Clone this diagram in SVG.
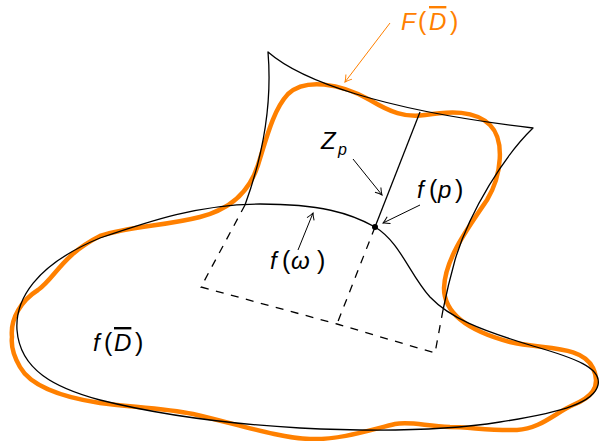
<svg xmlns="http://www.w3.org/2000/svg" width="600" height="441" viewBox="0 0 600 441">
<style>
.orange{fill:none;stroke:#ff8000;stroke-width:4.5;stroke-linejoin:round}
.edge{fill:none;stroke:#000;stroke-width:1.3;stroke-linejoin:round}
.dash{fill:none;stroke:#000;stroke-width:1.3;stroke-dasharray:8 7.5}
.arr{fill:none;stroke:#000;stroke-width:1}
.arro{fill:none;stroke:#ff8000;stroke-width:1}
text{font-family:"Liberation Sans","DejaVu Sans",sans-serif;font-size:24px;fill:#000}
.it{font-style:italic}
.ol{text-decoration:overline}
.pr{font-size:25px}
</style>
<defs>
<marker id="ah" viewBox="-8 -5 10 10" markerWidth="10" markerHeight="10" refX="0" refY="0" orient="auto" markerUnits="userSpaceOnUse" overflow="visible">
<path d="M-6.5,-3.8 Q-2.5,-1 0,0 Q-2.5,1 -6.5,3.8" fill="none" stroke="#000" stroke-width="1"/>
</marker>
<marker id="aho" viewBox="-8 -5 10 10" markerWidth="10" markerHeight="10" refX="0" refY="0" orient="auto" markerUnits="userSpaceOnUse" overflow="visible">
<path d="M-6.5,-3.8 Q-2.5,-1 0,0 Q-2.5,1 -6.5,3.8" fill="none" stroke="#ff8000" stroke-width="1"/>
</marker>
</defs>

<g id="F-boundary">
<path class="orange" d="M12,337 C10,318 22,300 38,290 C55,278 62,255 100,236 C130,226 165,226 200,217 C232,209 250,190 258,165 C266,140 273,110 288,94 C305,78 340,83 370,100 C390,112 405,118 425,115 C450,111 475,110 490,125 C505,140 502,175 487,200 C465,232 445,260 444,288 C444,312 465,330 510,342 C545,350 582,345 593,368 C602,388 590,398 573,405 C555,413 540,429 517,430 C490,431 470,427 450,427 C425,426 410,421 395,424 C370,430 340,440 310,439 C280,438 240,425 193,414 C165,408 130,407 100,403 C60,397 30,385 20,367 C13,355 11,345 12,337 Z"/>
</g>

<g id="f-D">
<path class="edge" d="M17,330 C15,300 35,265 100,238 C150,221 200,204 260,204 C320,204 350,213 375,227 C400,242 410,275 430,297 C450,318 480,330 533,346 C575,358 602,368 598,385 C594,402 565,412 500,422 C450,430 380,432 300,428 C230,424 160,415 100,400 C55,388 20,370 17,330 Z"/>
</g>

<g id="Zp-region">
<path class="edge" d="M245,205 C265,150 272,100 268,52 C300,80 380,110 533,128 C505,155 470,210 455,260 C448,285 445,300 443,310"/>
<path class="edge" d="M420,112 L375,227"/>
<path class="dash" d="M245,205 L201,287 L337,324 L435,353 L443,310"/>
<path class="dash" d="M375,227 L337,324"/>
<circle cx="375" cy="227" r="3" fill="#000"/>
</g>

<g id="connectors">
<line class="arro" x1="390" y1="23" x2="345" y2="82" marker-end="url(#aho)"/>
<line class="arr" x1="353" y1="159" x2="382" y2="195" marker-end="url(#ah)"/>
<line class="arr" x1="420" y1="205" x2="383" y2="223" marker-end="url(#ah)"/>
<line class="arr" x1="298" y1="250" x2="313" y2="213" marker-end="url(#ah)"/>
</g>

<g id="labels">
<text y="30" style="fill:#ff8000"><tspan x="401" class="it">F</tspan><tspan x="418" class="pr">(</tspan><tspan x="429" class="it ol">D</tspan><tspan x="450" class="pr">)</tspan></text>
<text y="149"><tspan x="321" class="it">Z</tspan><tspan x="338" y="155" class="it" style="font-size:16px">p</tspan></text>
<text y="198"><tspan x="417" class="it">f</tspan><tspan x="429" class="pr">(</tspan><tspan x="438" class="it">p</tspan><tspan x="455" class="pr">)</tspan></text>
<text y="269"><tspan x="270" class="it">f</tspan><tspan x="282" class="pr">(</tspan><tspan x="291" class="it">ω</tspan><tspan x="317" class="pr">)</tspan></text>
<text y="351"><tspan x="93" class="it">f</tspan><tspan x="104" class="pr">(</tspan><tspan x="114" class="it ol">D</tspan><tspan x="135" class="pr">)</tspan></text>
</g>
</svg>
